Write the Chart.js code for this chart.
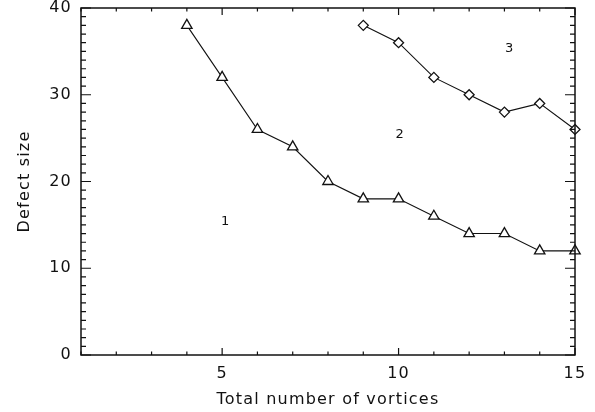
<!DOCTYPE html>
<html>
<head>
<meta charset="utf-8">
<script src="https://cdn.jsdelivr.net/npm/chart.js@4"></script>
<style>
  html, body { margin: 0; padding: 0; background: #fff; }
  #wrap { width: 595px; height: 412px; }
</style>
</head>
<body>
<div id="wrap"><canvas id="chart" width="595" height="412"></canvas></div>
<script>
// data
const vortices1 = [4, 5, 6, 7, 8, 9, 10, 11, 12, 13, 14, 15];
const defect1 = [38, 32, 26, 24, 20, 18, 18, 16, 14, 14, 12, 12];
const vortices2 = [9, 10, 11, 12, 13, 14, 15];
const defect2 = [38, 36, 32, 30, 28, 29, 26];
const xTicks = [5, 10, 15];
const yTicks = [0, 10, 20, 30, 40];
const regionNames = ["1", "2", "3"];
const regionX = [5.1, 10.05, 13.15];
const regionY = [15.4, 25.4, 35.3];

const toPts = (xs, ys) => xs.map((x, i) => ({ x: x, y: ys[i] }));

// wider letter spacing, like the old plotting font
const spacing = {
  id: "spacing",
  beforeDraw(chart) { chart.ctx.letterSpacing = "1.2px"; }
};

// box + inward ticks on all four sides, region numbers
const frame = {
  id: "frame",
  afterDatasetsDraw(chart) {
    const { ctx, chartArea: a, scales: { x, y } } = chart;
    ctx.save();
    ctx.strokeStyle = "#111";
    ctx.lineWidth = 1.5;
    ctx.strokeRect(a.left, a.top, a.right - a.left, a.bottom - a.top);
    ctx.lineWidth = 1.2;
    ctx.beginPath();
    for (let v = x.min; v <= x.max; v++) {
      const px = x.getPixelForValue(v);
      const len = v % 5 === 0 ? 7 : 3.5;
      ctx.moveTo(px, a.bottom); ctx.lineTo(px, a.bottom - len);
      ctx.moveTo(px, a.top); ctx.lineTo(px, a.top + len);
    }
    for (let v = y.min; v <= y.max; v++) {
      const py = y.getPixelForValue(v);
      const len = v % 10 === 0 ? 10 : 5;
      ctx.moveTo(a.left, py); ctx.lineTo(a.left + len, py);
      ctx.moveTo(a.right, py); ctx.lineTo(a.right - len, py);
    }
    ctx.stroke();
    ctx.fillStyle = "#111";
    ctx.font = "13px 'DejaVu Sans'";
    ctx.textAlign = "center";
    ctx.textBaseline = "middle";
    regionNames.forEach((n, i) => {
      ctx.fillText(n, x.getPixelForValue(regionX[i]), y.getPixelForValue(regionY[i]));
    });
    ctx.restore();
  }
};

const tickFont = { family: "DejaVu Sans", size: 16 };

new Chart(document.getElementById("chart"), {
  type: "scatter",
  data: {
    datasets: [{
      data: toPts(vortices1, defect1),
      showLine: true,
      borderColor: "#111",
      borderWidth: 1.1,
      pointStyle: "triangle",
      pointRadius: 6,
      pointBorderWidth: 1.3,
      pointBorderColor: "#111",
      pointBackgroundColor: "#fff"
    }, {
      data: toPts(vortices2, defect2),
      showLine: true,
      borderColor: "#111",
      borderWidth: 1.1,
      pointStyle: "rectRot",
      pointRadius: 5,
      pointBorderWidth: 1.3,
      pointBorderColor: "#111",
      pointBackgroundColor: "#fff"
    }]
  },
  options: {
    responsive: false,
    animation: false,
    clip: false,
    layout: { padding: { top: 8, right: 20, left: 0, bottom: 0 } },
    plugins: { legend: { display: false }, tooltip: { enabled: false } },
    scales: {
      x: {
        type: "linear",
        min: 1,
        max: 15,
        afterBuildTicks: axis => { axis.ticks = xTicks.map(v => ({ value: v })); },
        afterFit: s => { s.height = 57; s.paddingLeft = 0; s.paddingRight = 0; },
        grid: { display: false, drawTicks: false },
        border: { display: false },
        ticks: { color: "#111", font: tickFont, padding: 9, maxRotation: 0 },
        title: {
          display: true,
          text: "Total number of vortices",
          color: "#111",
          font: { family: "DejaVu Sans", size: 16 },
          padding: { top: 0, bottom: 3 }
        }
      },
      y: {
        min: 0,
        max: 40,
        afterBuildTicks: axis => { axis.ticks = yTicks.map(v => ({ value: v })); },
        afterFit: s => { s.width = 81; s.paddingTop = 0; s.paddingBottom = 0; },
        grid: { display: false, drawTicks: false },
        border: { display: false },
        ticks: { color: "#111", font: tickFont, padding: 9 },
        title: {
          display: true,
          text: "Defect size",
          color: "#111",
          font: { family: "DejaVu Sans", size: 16 },
          padding: { top: 15, bottom: 0 }
        }
      }
    }
  },
  plugins: [spacing, frame]
});
</script>
</body>
</html>
